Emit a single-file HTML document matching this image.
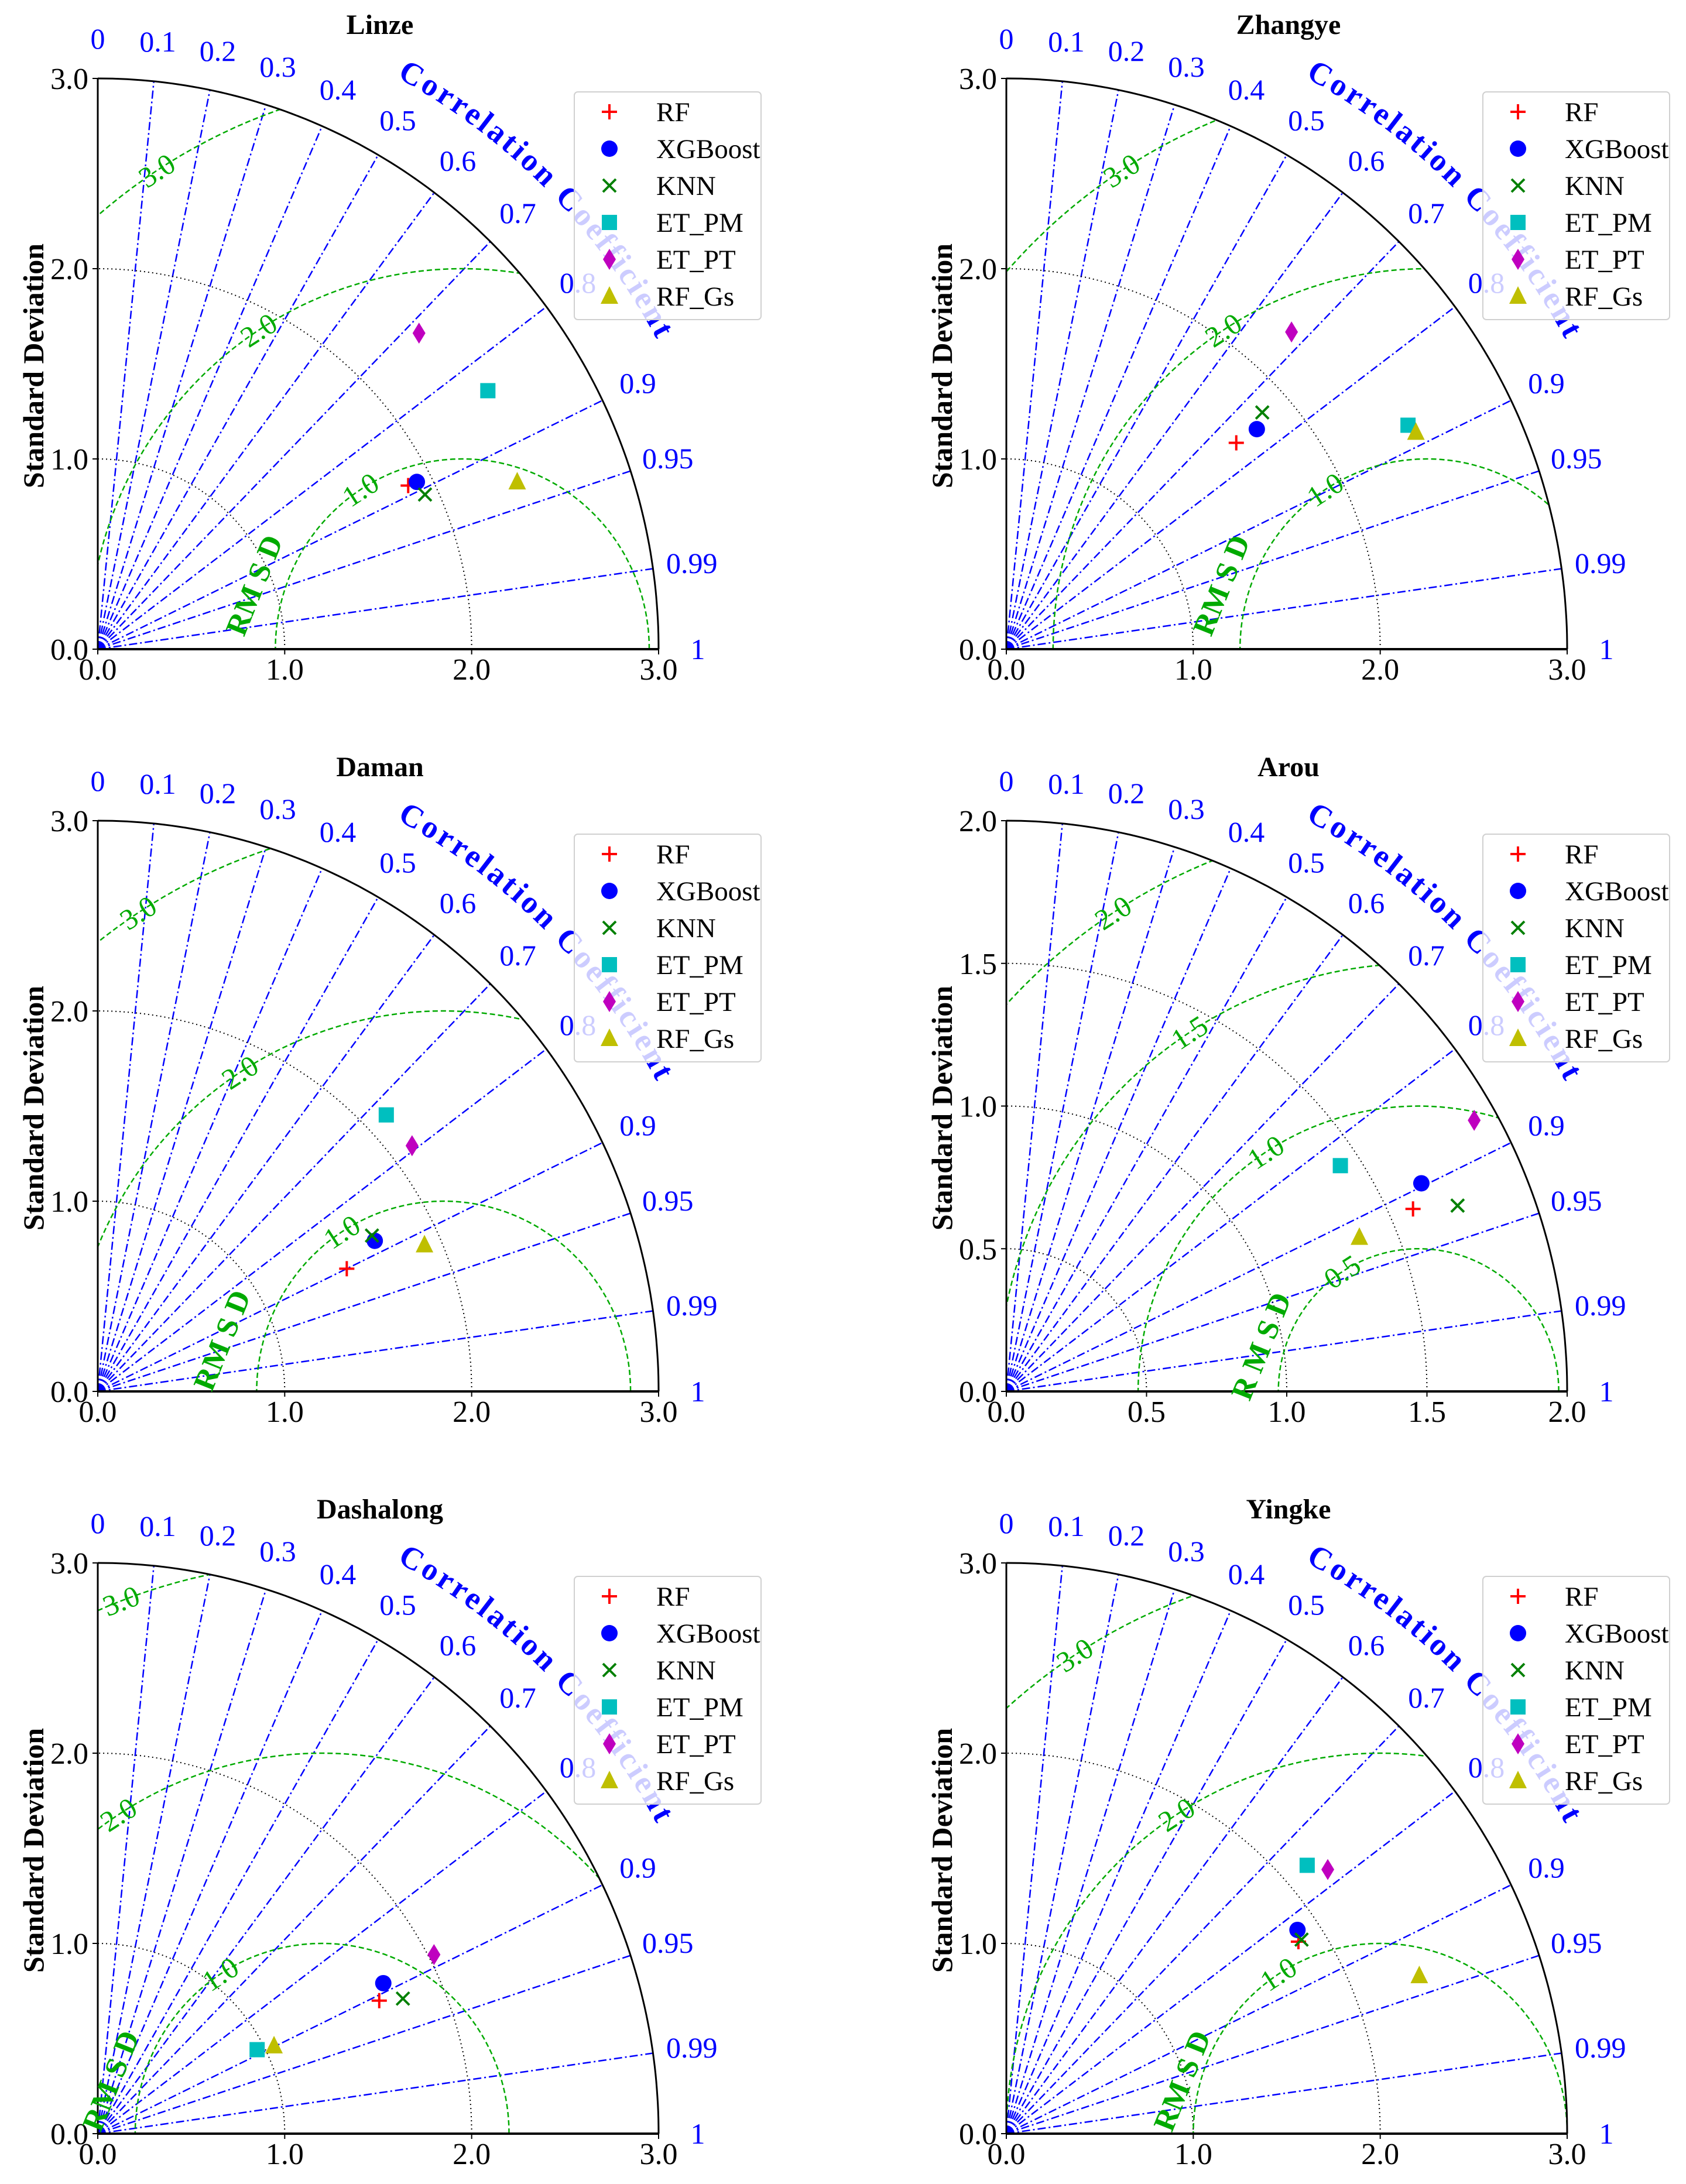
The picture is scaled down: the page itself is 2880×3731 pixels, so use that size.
<!DOCTYPE html>
<html><head><meta charset="utf-8">
<style>
html,body{margin:0;padding:0;background:#fff;}
svg{display:block;}
svg text{font-family:"Liberation Serif","DejaVu Serif",serif;}
</style></head>
<body>
<svg id="fig" width="2880" height="3731" viewBox="0 0 2880 3731" xmlns="http://www.w3.org/2000/svg"></svg>
<script>
const titles = ["Linze","Zhangye","Daman","Arou","Dashalong","Yingke"];
const maxStd = [3,3,3,2,3,3];
const refStd = [1.95,2.25,1.85,1.47,1.2,2.0];
const models = ["RF","XGBoost","KNN","ET_PM","ET_PT","RF_Gs"];
const corrTicks = [0,0.1,0.2,0.3,0.4,0.5,0.6,0.7,0.8,0.9,0.95,0.99,1];
const stdTicks3 = [0,1,2,3];
const stdTicks2 = [0,0.5,1,1.5,2];
const rmsLevels3 = [1,2,3];
const rmsLevels2 = [0.5,1,1.5,2];
const linzeStd = [1.87,1.92,1.93,2.49,2.39,2.41];
const linzeCorr = [0.888,0.889,0.907,0.838,0.719,0.931];
const zhangyeStd = [1.64,1.77,1.85,2.45,2.26,2.47];
const zhangyeCorr = [0.75,0.757,0.74,0.877,0.675,0.887];
const damanStd = [1.48,1.68,1.68,2.12,2.12,1.91];
const damanCorr = [0.90,0.882,0.873,0.728,0.793,0.915];
const arouStd = [1.585,1.65,1.736,1.43,1.92,1.37];
const arouCorr = [0.915,0.897,0.927,0.833,0.869,0.919];
const dashalongStd = [1.66,1.72,1.78,0.96,2.03,1.05];
const dashalongCorr = [0.907,0.888,0.917,0.888,0.886,0.898];
const yingkeStd = [1.86,1.89,1.88,2.14,2.21,2.36];
const yingkeCorr = [0.84,0.824,0.84,0.752,0.778,0.936];
const allStd = [linzeStd,zhangyeStd,damanStd,arouStd,dashalongStd,yingkeStd];
const allCorr = [linzeCorr,zhangyeCorr,damanCorr,arouCorr,dashalongCorr,yingkeCorr];

const NS="http://www.w3.org/2000/svg";
const svg=document.getElementById('fig');
function el(tag,attrs,parent){const e=document.createElementNS(NS,tag);for(const k in attrs)e.setAttribute(k,attrs[k]);(parent||svg).appendChild(e);return e;}
const originsX=[167,1719], originsY=[1109,2377,3645];
const rmsdPos=[[435,1000],[2087,1000],[380,2290],[2155,2300],[190,3555],[2020,3555]];

for(let p=0;p<6;p++){
  const ox=originsX[p%2], oy=originsY[Math.floor(p/2)];
  const R=maxStd[p], sx=958/R, sy=975/R;
  const X=x=>ox+x*sx, Y=y=>oy-y*sy;
  const g=el('g',{});
  
  
  const arcPath=(cx,r,a0,a1)=>{let d='';const n=120;for(let i=0;i<=n;i++){const a=a0+(a1-a0)*i/n;d+=(i?'L':'M')+X(cx+r*Math.cos(a)).toFixed(1)+' '+Y(r*Math.sin(a)).toFixed(1);}return d;};
  const cid='clip'+p;
  const cp=el('clipPath',{id:cid},g);
  el('path',{d:arcPath(0,R,0,Math.PI/2)+'L'+X(0)+' '+Y(0)+'Z'},cp);
  corrTicks.forEach(c=>{ if(c<=0||c>=1) return;
    const a=Math.acos(c);
    const ln=el('line',{x1:X(0),y1:Y(0),x2:X(R*Math.cos(a)),y2:Y(R*Math.sin(a)),stroke:'#0000ff','stroke-width':2.5,'stroke-dasharray':'14 5 3 5'},g);
    
    
  });
  const sticks = R===2?stdTicks2:stdTicks3;
  sticks.forEach(s=>{ if(s<=0||s>=R) return;
    const a=el('path',{d:arcPath(0,s,0,Math.PI/2),fill:'none',stroke:'#000','stroke-width':2,'stroke-dasharray':'2 5'},g);
    
    
  });
  const levels = R===2?rmsLevels2:rmsLevels3;
  const rg=el('g',{'clip-path':'url(#'+cid+')'},g);
  levels.forEach(r=>{
    const c=el('path',{d:arcPath(refStd[p],r,0,Math.PI),fill:'none',stroke:'#00aa00','stroke-width':2.5,'stroke-dasharray':'9 5'},rg);
    
    
  });
  levels.forEach(r=>{
    let ang=123*Math.PI/180;
    let lx=refStd[p]+r*Math.cos(ang), ly=r*Math.sin(ang);
    if(lx<0.1 || Math.hypot(lx,ly)>R*0.97){
      for(let d=123; d>20; d-=1){const aa=d*Math.PI/180;const tx=refStd[p]+r*Math.cos(aa),ty=r*Math.sin(aa);
        if(tx>=0.1 && Math.hypot(tx,ty)<=R*0.96){ang=aa;lx=tx;ly=ty;break;}}
    }
    const rot=-(ang*180/Math.PI-90);
    const t=el('text',{x:X(lx),y:Y(ly),'font-size':50,fill:'#00aa00','text-anchor':'middle','dominant-baseline':'central',transform:`rotate(${rot.toFixed(1)} ${X(lx).toFixed(1)} ${Y(ly).toFixed(1)})`},g);
    t.textContent=r.toFixed(1);
    
    
  });
  el('path',{d:arcPath(0,R,0,Math.PI/2),fill:'none',stroke:'#000','stroke-width':3},g);
  const xa=el('line',{x1:X(0),y1:Y(0),x2:X(R),y2:Y(0),stroke:'#000','stroke-width':4},g);
  
  
  const ya=el('line',{x1:X(0),y1:Y(0),x2:X(0),y2:Y(R),stroke:'#000','stroke-width':3},g);
  
  
  sticks.forEach(s=>{
    el('line',{x1:X(s),y1:Y(0),x2:X(s),y2:Y(0)+9,stroke:'#000','stroke-width':2},g);
    el('line',{x1:X(0)-9,y1:Y(s),x2:X(0),y2:Y(s),stroke:'#000','stroke-width':2},g);
    const tx=el('text',{x:X(s),y:Y(0)+52,'font-size':52,'text-anchor':'middle'},g);
    tx.textContent=s.toFixed(1);
    
    
    const ty=el('text',{x:X(0)-16,y:Y(s)+18,'font-size':52,'text-anchor':'end'},g);
    ty.textContent=s.toFixed(1);
    
    
  });
  corrTicks.forEach(c=>{
    const a=Math.acos(c), rr=R*1.07;
    const t=el('text',{x:X(rr*Math.cos(a)),y:Y(rr*Math.sin(a)),'font-size':50,fill:'#0000ff','text-anchor':'middle','dominant-baseline':'central'},g);
    t.textContent=String(c);
    
    
  });
  const pid='cc'+p, rr=R*1.135;
  const a0=62*Math.PI/180, a1=28*Math.PI/180;
  el('path',{id:pid,d:arcPath(0,rr,a0,a1),fill:'none',stroke:'none'},g);
  const ct=el('text',{'font-size':54,'font-weight':'bold',fill:'#0000ff'},g);
  
  
  const tp=el('textPath',{href:'#'+pid,textLength:640,lengthAdjust:'spacing'},ct);
  tp.textContent='Correlation Coefficient';
  const rp=rmsdPos[p];
  const rl=el('text',{x:rp[0],y:rp[1],'font-size':52,'font-weight':'bold',fill:'#00aa00','text-anchor':'middle','dominant-baseline':'central',transform:`rotate(-68 ${rp[0]} ${rp[1]})`},g);
  rl.textContent= p===3 ? 'R M S D' : 'RM S D';
  
  
  const tt=el('text',{x:ox+482,y:oy-1051,'font-size':48,'font-weight':'bold','text-anchor':'middle'},g);
  tt.textContent=titles[p];
  
  
  const yl=el('text',{x:ox-110,y:oy-484,'font-size':50,'font-weight':'bold','text-anchor':'middle','dominant-baseline':'central',transform:`rotate(-90 ${ox-110} ${oy-484})`},g);
  yl.textContent='Standard Deviation';
  
  
  const drawMarker=(m,cx,cy,parent)=>{
    if(m===0){return el('path',{d:`M${cx-13} ${cy}H${cx+13}M${cx} ${cy-13}V${cy+13}`,stroke:'#ff0000','stroke-width':4,fill:'none'},parent);}
    if(m===1){return el('circle',{cx:cx,cy:cy,r:14,fill:'#0000ff'},parent);}
    if(m===2){return el('path',{d:`M${cx-11} ${cy-11}L${cx+11} ${cy+11}M${cx+11} ${cy-11}L${cx-11} ${cy+11}`,stroke:'#008000','stroke-width':4,fill:'none'},parent);}
    if(m===3){return el('rect',{x:cx-13,y:cy-13,width:26,height:26,fill:'#00bfbf'},parent);}
    if(m===4){return el('path',{d:`M${cx} ${cy-18}L${cx+11} ${cy}L${cx} ${cy+18}L${cx-11} ${cy}Z`,fill:'#bf00bf'},parent);}
    return el('path',{d:`M${cx} ${cy-17}L${cx+15} ${cy+13}L${cx-15} ${cy+13}Z`,fill:'#bfbf00'},parent);
  };
  const sArr=allStd[p], cArr=allCorr[p];
  for(let i=0;i<models.length;i++){
    const s=sArr[i], c=cArr[i];
    const mk=drawMarker(i,X(s*c),Y(s*Math.sqrt(1-c*c)),g);
    
    
  }
  const lg=el('g',{},g);
  
  
  el('rect',{x:ox+814,y:oy-952,width:319,height:389,rx:6,fill:'rgba(255,255,255,0.8)',stroke:'#d0d0d0','stroke-width':2},lg);
  models.forEach((m,i)=>{
    const yy=oy-918+i*63;
    const mk=drawMarker(i,ox+874,yy,lg);
    
    
    const t=el('text',{x:ox+954,y:yy+16,'font-size':47},lg);
    t.textContent=m;
    
    
  });
}
</script>
</body></html>
